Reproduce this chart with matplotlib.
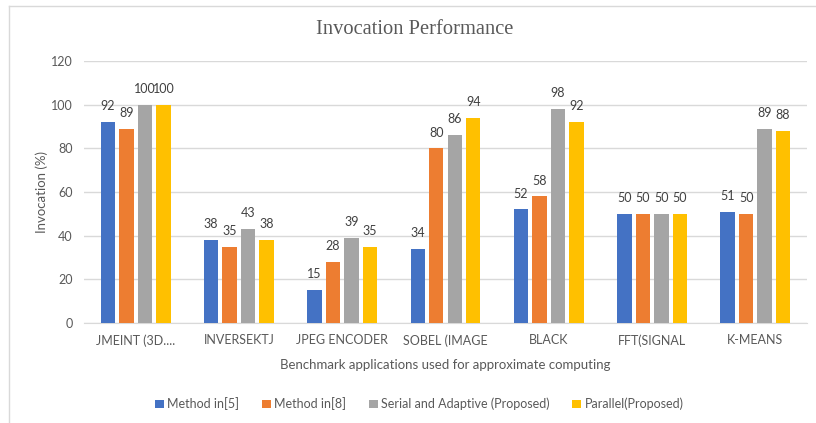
import matplotlib
matplotlib.use("Agg")
import matplotlib.pyplot as plt
import numpy as np
from matplotlib.lines import Line2D

categories = ["JMEINT (3D....", "INVERSEKTJ", "JPEG ENCODER", "SOBEL (IMAGE", "BLACK", "FFT(SIGNAL", "K-MEANS"]
series_names = ["Method in[5]", "Method in[8]", "Serial and Adaptive (Proposed)", "Parallel(Proposed)"]
method5 = [92, 38, 15, 34, 52, 50, 51]
method8 = [89, 35, 28, 80, 58, 50, 50]
serial_adaptive = [100, 43, 39, 86, 98, 50, 89]
parallel = [100, 38, 35, 94, 92, 50, 88]
yticks = [0, 20, 40, 60, 80, 100, 120]

colors = ["#4472C4", "#ED7D31", "#A5A5A5", "#FFC000"]
txt = "#595959"
font = "Lato"

fig = plt.figure(figsize=(8.16, 4.23), dpi=100)
ax = fig.add_axes([84/816, 1-323/423, (807-84)/816, (323-61)/423])

x = np.arange(len(categories))
pitch = 0.179
width = 0.14
all_series = [method5, method8, serial_adaptive, parallel]
for i, (vals, name, c) in enumerate(zip(all_series, series_names, colors)):
    pos = x + (i - 1.5) * pitch
    bars = ax.bar(pos, vals, width, color=c, label=name, zorder=3)
    for b, v in zip(bars, vals):
        ax.text(b.get_x() + b.get_width()/2, v + 4.5, str(v), ha="center", va="bottom",
                fontsize=9, color="#404040", family=font)

ax.set_xlim(-0.5, len(categories) - 0.5)
ax.set_ylim(0, 120)
ax.set_yticks(yticks)
ax.set_xticks(x)
ax.set_xticklabels(categories)
ax.grid(axis="y", color="#D9D9D9", linewidth=1, zorder=0)
for s in ["top", "right", "left"]:
    ax.spines[s].set_visible(False)
ax.spines["bottom"].set_color("#D9D9D9")
ax.tick_params(axis="both", length=0, labelsize=9, colors=txt, pad=8)
for lab in ax.get_xticklabels() + ax.get_yticklabels():
    lab.set_family(font)
ax.tick_params(axis="x", pad=8)

ax.set_ylabel("Invocation (%)", fontsize=9.5, color=txt, family=font, labelpad=2)
ax.set_xlabel("Benchmark applications used for approximate computing", fontsize=9.5,
              color=txt, family=font, labelpad=9)

fig.text(0.508, 1-29/423, "Invocation Performance", ha="center", va="center",
         fontsize=14.8, color=txt, family="Liberation Serif")

leg = fig.legend(loc="center", bbox_to_anchor=(0.514, 1-404/423), ncol=4, frameon=False,
                 handlelength=0.7, handleheight=0.7, handletextpad=0.3, columnspacing=1.8,
                 prop={"family": font, "size": 9})
for t in leg.get_texts():
    t.set_color(txt)

fig.add_artist(Line2D([9/816, 9/816], [0, 1-6/423], color="#D9D9D9", lw=1, transform=fig.transFigure))
fig.add_artist(Line2D([9/816, 1], [1-6/423, 1-6/423], color="#D9D9D9", lw=1, transform=fig.transFigure))

fig.savefig("out.png", dpi=100)
